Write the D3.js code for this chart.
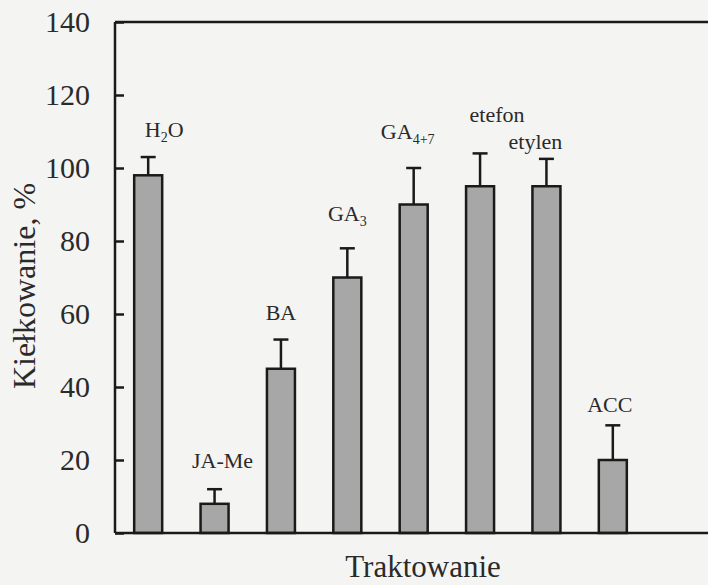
<!DOCTYPE html>
<html>
<head>
<meta charset="utf-8">
<script src="https://cdn.jsdelivr.net/npm/d3@7"></script>
<style>
  html, body { margin: 0; padding: 0; background: #f4f4f2; }
  svg text { font-family: 'Liberation Serif', 'DejaVu Serif', serif; }
</style>
</head>
<body>
<script>
const width = 708;
const height = 585;
const margin = {
  top: 22,
  left: 115,
  right: 0,
  bottom: 52,
};
const board = {
  width: width - (margin.left + margin.right),
  height: height - (margin.top + margin.bottom),
};
const serif = "'Liberation Serif', 'DejaVu Serif', serif";

// data: '_' marks a subscript part in the label
const categories = ['H_2_O', 'JA-Me', 'BA', 'GA_3', 'GA_4+7', 'etefon', 'etylen', 'ACC'];
const values = [98, 8, 45, 70, 90, 95, 95, 20];
const errors = [5, 4, 8, 8, 10, 9, 7.5, 9.5];
const yTicks = [0, 20, 40, 60, 80, 100, 120, 140];

// label placement tweaks (px) so labels clear each other
const labelDx = [16, 8, 0, 0, -6, 17, -11, -3];
const labelLift = [20, 21, 20, 27, 29, 31, 10, 13];

const barWidth = 28;

const svg = d3.select('body')
  .append('svg')
    .attr('width', width)
    .attr('height', height)
    .attr('font-family', serif);

const g = svg.append('g')
  .attr('transform', `translate(${margin.left}, ${margin.top})`);

const x = d3.scalePoint()
  .domain(categories)
  .range([0, 531])
  .padding(0.5);

const y = d3.scaleLinear()
  .domain([0, 140])
  .range([board.height, 0]);

const yAxis = d3.axisLeft(y)
  .tickValues(yTicks)
  .tickSizeInner(-9)
  .tickSizeOuter(0)
  .tickPadding(25);

const ya = g.append('g')
  .attr('class', 'y axis')
  .call(yAxis)
  .attr('font-family', serif)
  .attr('font-size', 30);

ya.select('.domain').remove();
ya.selectAll('line')
  .attr('stroke', '#1a1a1a')
  .attr('stroke-width', 2.5);
ya.selectAll('text')
  .attr('fill', '#2a2a2a');

// frame lines: left, top
g.append('line')
  .attr('x1', 0).attr('x2', 0)
  .attr('y1', 0).attr('y2', board.height)
  .attr('stroke', '#1a1a1a').attr('stroke-width', 2.5);
g.append('line')
  .attr('x1', 0).attr('x2', board.width)
  .attr('y1', 0).attr('y2', 0)
  .attr('stroke', '#1a1a1a').attr('stroke-width', 2.5);

const data = categories.map((c, i) => ({ c, v: values[i], e: errors[i], i }));

const bars = g.selectAll('.bar')
  .data(data)
  .enter()
    .append('g')
    .attr('class', 'bar');

bars.append('line')
  .attr('x1', d => x(d.c)).attr('x2', d => x(d.c))
  .attr('y1', d => y(d.v)).attr('y2', d => y(d.v + d.e))
  .attr('stroke', '#1a1a1a').attr('stroke-width', 2.5);

bars.append('line')
  .attr('x1', d => x(d.c) - 7.5).attr('x2', d => x(d.c) + 7.5)
  .attr('y1', d => y(d.v + d.e)).attr('y2', d => y(d.v + d.e))
  .attr('stroke', '#1a1a1a').attr('stroke-width', 2.5);

bars.append('rect')
  .attr('x', d => x(d.c) - barWidth / 2)
  .attr('y', d => y(d.v))
  .attr('width', barWidth)
  .attr('height', d => board.height - y(d.v))
  .attr('fill', '#a7a7a7')
  .attr('stroke', '#1a1a1a')
  .attr('stroke-width', 2.5);

const labels = bars.append('text')
  .attr('x', d => x(d.c) + labelDx[d.i])
  .attr('y', d => y(d.v + d.e) - labelLift[d.i])
  .attr('text-anchor', 'middle')
  .attr('font-family', serif)
  .attr('font-size', 22)
  .attr('fill', '#2a2a2a');

labels.each(function (d) {
  const t = d3.select(this);
  d.c.split('_').forEach((part, k) => {
    const s = t.append('tspan').text(part);
    if (k % 2 === 1) {
      s.attr('font-size', 14).attr('dy', 5);
    } else if (k > 0) {
      s.attr('dy', -5);
    }
  });
});

// bottom axis line drawn last so it sits over bar bottoms
g.append('line')
  .attr('x1', 0).attr('x2', board.width)
  .attr('y1', board.height).attr('y2', board.height)
  .attr('stroke', '#1a1a1a').attr('stroke-width', 2.5);

svg.append('text')
  .attr('x', 423)
  .attr('y', 577)
  .attr('text-anchor', 'middle')
  .attr('font-size', 31)
  .attr('fill', '#2a2a2a')
  .text('Traktowanie');

svg.append('text')
  .attr('transform', 'translate(35, 286) rotate(-90)')
  .attr('text-anchor', 'middle')
  .attr('font-size', 32)
  .attr('fill', '#2a2a2a')
  .text('Kiełkowanie, %');
</script>
</body>
</html>
